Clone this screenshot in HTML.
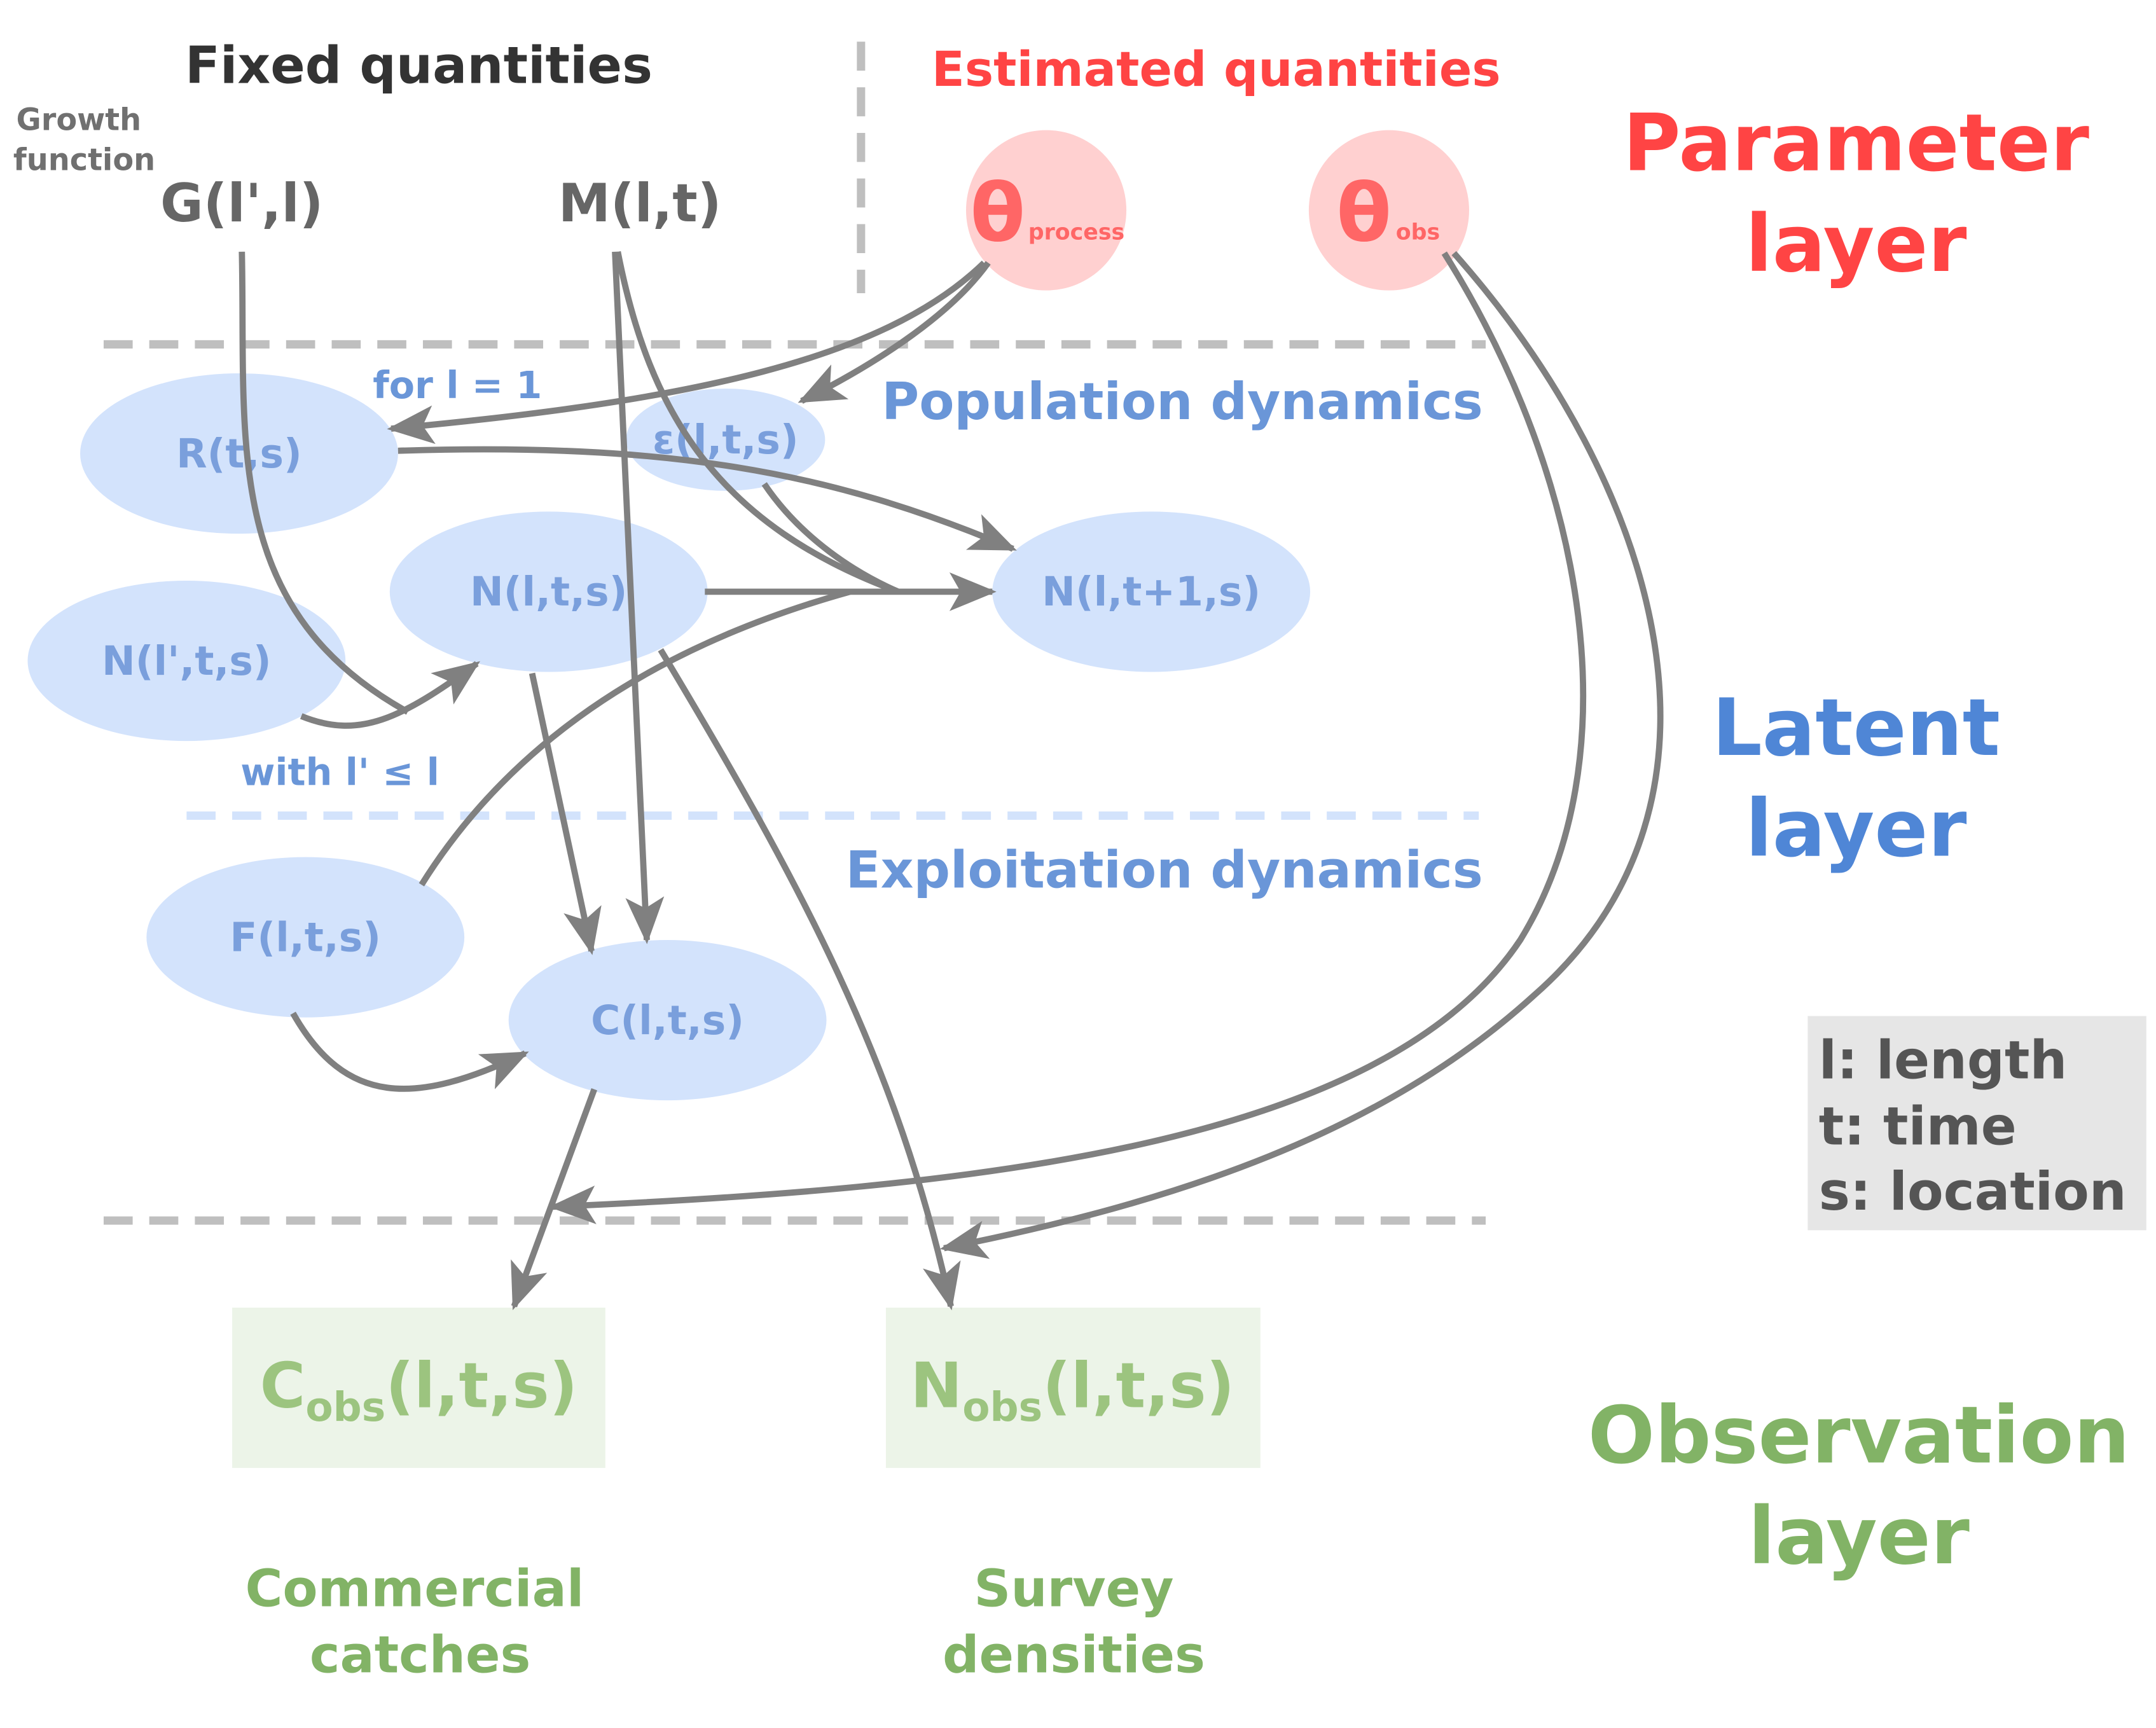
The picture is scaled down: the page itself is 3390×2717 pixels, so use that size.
<!DOCTYPE html>
<html><head><meta charset="utf-8"><style>
html,body{margin:0;padding:0;background:#fff}
svg{display:block}
text{font-family:"DejaVu Sans","Liberation Sans",sans-serif;font-weight:bold}
</style></head><body>
<svg width="3390" height="2717" viewBox="0 0 1560 1250" xmlns="http://www.w3.org/2000/svg">
<defs>
<marker id="a" markerUnits="userSpaceOnUse" markerWidth="36" markerHeight="32" refX="31" refY="14" orient="auto">
<path d="M0,0 L34,14 L0,28 L8,14 Z" fill="#808080"/>
</marker>
</defs>
<rect width="1560" height="1250" fill="#fff"/>
<g stroke="#bfbfbf" stroke-width="6" stroke-dasharray="21 12" fill="none">
<line x1="623" y1="30" x2="623" y2="212"/>
<line x1="75" y1="249" x2="1075" y2="249"/>
<line x1="75" y1="883" x2="1075" y2="883"/>
</g>
<line x1="135" y1="590" x2="1070" y2="590" stroke="#d3e3fc" stroke-width="6" stroke-dasharray="21 12"/>

<text x="303" y="60" font-size="37" fill="#333" text-anchor="middle">Fixed quantities</text>
<text x="57" y="94" font-size="22" fill="#707070" text-anchor="middle">Growth</text>
<text x="61" y="123" font-size="22" fill="#707070" text-anchor="middle">function</text>
<text x="175" y="160" font-size="38" fill="#666" text-anchor="middle">G(l',l)</text>
<text x="463" y="160" font-size="38" fill="#666" text-anchor="middle">M(l,t)</text>
<text x="880" y="62" font-size="35" fill="#f44" text-anchor="middle">Estimated quantities</text>

<circle cx="757" cy="152" r="58" fill="#ffd0d0"/>
<circle cx="1005" cy="152" r="58" fill="#ffd0d0"/>
<text x="702" y="174" font-size="58" fill="#f66">θ</text><text x="744" y="173" font-size="16" fill="#f66" font-weight="normal">process</text>
<text x="967" y="174" font-size="58" fill="#f66">θ</text><text x="1010" y="173" font-size="16" fill="#f66" font-weight="normal">obs</text>

<g font-size="57" text-anchor="middle">
<text x="1343" y="123" fill="#f44">Parameter</text>
<text x="1343" y="196" fill="#f44">layer</text>
<text x="1343" y="546" fill="#4f86d6">Latent</text>
<text x="1343" y="619" fill="#4f86d6">layer</text>
<text x="1345" y="1058" fill="#82b366">Observation</text>
<text x="1345" y="1131" fill="#82b366">layer</text>
</g>

<text x="1073" y="303" font-size="37" fill="#6a96d8" text-anchor="end">Population dynamics</text>
<text x="1073" y="642" font-size="37" fill="#6a96d8" text-anchor="end">Exploitation dynamics</text>

<g fill="#d3e3fc">
<ellipse cx="173" cy="328" rx="115" ry="58"/>
<ellipse cx="525" cy="318" rx="72" ry="37"/>
<ellipse cx="397" cy="428" rx="115" ry="58"/>
<ellipse cx="135" cy="478" rx="115" ry="58"/>
<ellipse cx="833" cy="428" rx="115" ry="58"/>
<ellipse cx="221" cy="678" rx="115" ry="58"/>
<ellipse cx="483" cy="738" rx="115" ry="58"/>
</g>
<g font-size="29" fill="#7a9fdc" text-anchor="middle">
<text x="173" y="338">R(t,s)</text>
<text x="525" y="328">ε(l,t,s)</text>
<text x="397" y="438">N(l,t,s)</text>
<text x="135" y="488">N(l',t,s)</text>
<text x="833" y="438">N(l,t+1,s)</text>
<text x="221" y="688">F(l,t,s)</text>
<text x="483" y="748">C(l,t,s)</text>
</g>
<text x="331" y="288" font-size="27" fill="#6a96d8" text-anchor="middle">for l = 1</text>
<text x="246" y="568" font-size="27" fill="#6a96d8" text-anchor="middle">with l' ≤ l</text>

<rect x="1308" y="735" width="245" height="155" fill="#e6e6e6"/>
<g font-size="38" fill="#555">
<text x="1316" y="780">l: length</text>
<text x="1316" y="828">t: time</text>
<text x="1316" y="875">s: location</text>
</g>

<rect x="168" y="946" width="270" height="116" fill="#ecf4e8"/>
<rect x="641" y="946" width="271" height="116" fill="#ecf4e8"/>
<text x="303" y="1018" font-size="45" fill="#9cc47f" text-anchor="middle">C<tspan font-size="29" dy="10">obs</tspan><tspan dy="-10">(l,t,s)</tspan></text>
<text x="776" y="1018" font-size="45" fill="#9cc47f" text-anchor="middle">N<tspan font-size="29" dy="10">obs</tspan><tspan dy="-10">(l,t,s)</tspan></text>
<g font-size="37" fill="#82b366" text-anchor="middle">
<text x="300" y="1162">Commercial</text>
<text x="304" y="1210">catches</text>
<text x="777" y="1162">Survey</text>
<text x="777" y="1210">densities</text>
</g>

<g stroke="#808080" stroke-width="4.5" fill="none">
<path d="M175,182 C178,320 160,440 295,515"/>
<path d="M218,518 C260,535 290,520 345,480" marker-end="url(#a)"/>
<path d="M445,182 L468,680" marker-end="url(#a)"/>
<path d="M447,182 C470,300 520,380 650,428"/>
<path d="M553,350 C580,390 620,415 650,428"/>
<path d="M510,428 L718,428" marker-end="url(#a)"/>
<path d="M305,640 C380,520 500,460 615,428"/>
<path d="M712,190 C640,260 500,290 283,310" marker-end="url(#a)"/>
<path d="M715,190 C690,225 640,260 580,290" marker-end="url(#a)"/>
<path d="M288,326 C480,320 600,340 733,397" marker-end="url(#a)"/>
<path d="M385,487 L428,688" marker-end="url(#a)"/>
<path d="M478,470 C580,640 650,770 688,945" marker-end="url(#a)"/>
<path d="M212,733 C250,800 300,800 380,762" marker-end="url(#a)"/>
<path d="M430,788 L372,945" marker-end="url(#a)"/>
<path d="M1045,183 C1150,350 1180,550 1100,680 C1000,830 700,860 400,873" marker-end="url(#a)"/>
<path d="M1052,183 C1200,350 1270,580 1110,720 C1000,820 850,870 683,903" marker-end="url(#a)"/>
</g>
</svg>
</body></html>
